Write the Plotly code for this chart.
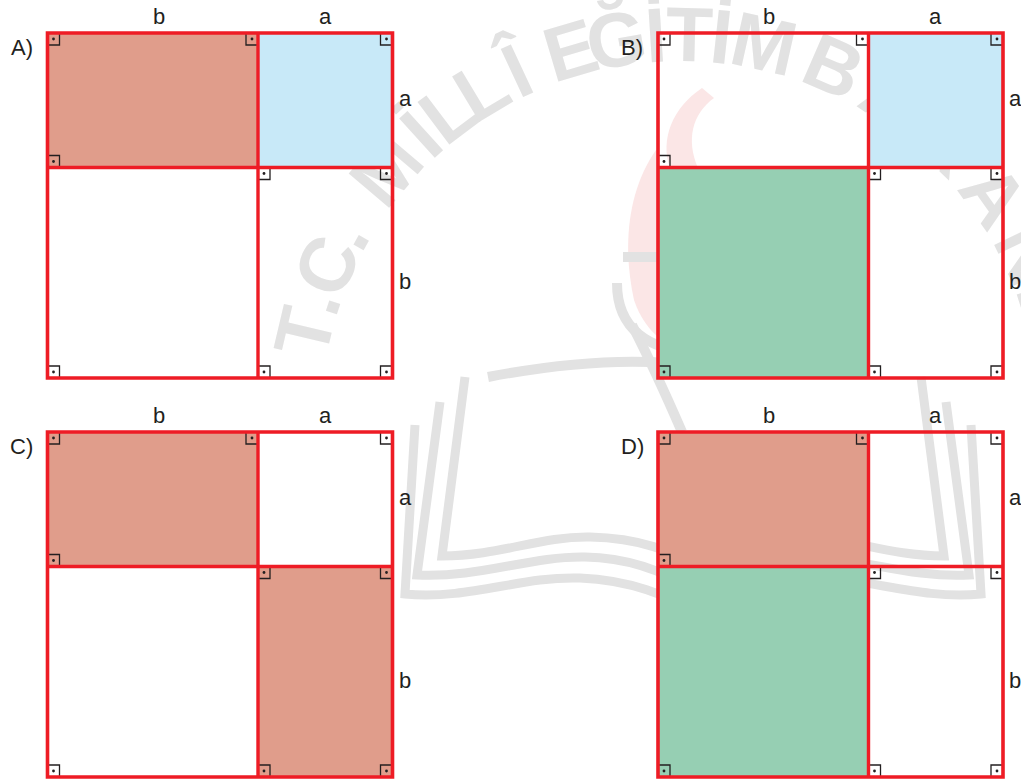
import plotly.graph_objects as go
import math

# ---------------- data ----------------
panel_labels = ["A)", "B)", "C)", "D)"]
side_names = ["a", "b"]
a_len = 134.5
b_len = 210.5
# fills per panel: [top-left (b x a), top-right (a x a), bottom-left (b x b), bottom-right (a x b)]
panel_fills = {
    "A)": ["brown", "blue", None, None],
    "B)": [None, "blue", "green", None],
    "C)": ["brown", None, None, "brown"],
    "D)": ["brown", None, "green", None],
}
watermark_chars = list("T.C.MİLLÎEĞİTİMBAKANLIĞI")
watermark_angles = [166.8, 162.0, 156.4, 150.9, 139.6, 132.2, 127.0, 121.0, 115.0,
                    106.5, 99.5, 93.6, 88.6, 83.8, 77.4, 66.5, 56.5, 46.0, 35.5,
                    25.5, 17.5, 12.0, 5.0, -2.0]

# ---------------- styles / layout ----------------
W, H = 1021, 780
origins = {"A)": (47.5, 33.0), "B)": (658.0, 33.0), "C)": (47.5, 432.0), "D)": (658.0, 432.0)}
colors = {"brown": "#E09D8B", "blue": "#C8E9F8", "green": "#96CFB3"}
RED = "#EE1C25"
INK = "#231F20"
GRAY = "#E2E2E2"
PINK = "#FBE6E6"
FONT = "Liberation Sans, Arial, sans-serif"

shapes = []
annotations = []

# ---- watermark (below everything) ----
cx, cy, R = 680.0, 420.0, 393.0
for ch, ang in zip(watermark_chars, watermark_angles):
    t = math.radians(ang)
    px = cx + R * math.cos(t)
    py = cy - R * math.sin(t)
    shapes.append(dict(type="rect", xref="x", yref="y", layer="below",
                       x0=px - 1, x1=px + 1, y0=py - 1, y1=py + 1,
                       line=dict(width=0), fillcolor="rgba(0,0,0,0)",
                       label=dict(text=ch, textposition="middle center",
                                  textangle=90 - ang,
                                  font=dict(family=FONT, size=77, color=GRAY, weight="bold"))))

# pink flame hints
flames = [
    "M 702 88 C 672 108 660 140 670 168 L 698 168 C 686 140 692 114 714 98 Z",
    "M 656 150 C 628 190 622 245 634 300 C 640 318 650 330 657 336 L 657 150 Z",
]
for p in flames:
    shapes.append(dict(type="path", path=p, xref="x", yref="y", layer="below",
                       fillcolor=PINK, line=dict(width=0)))

# book / torch strokes
book_left = [
    "M 415 425 L 405 594 C 470 600 520 576 580 578 C 630 580 670 596 693 612",
    "M 440 402 L 417 575 C 480 578 530 556 585 557 C 635 558 670 575 693 590",
    "M 465 377 L 442 556 C 500 556 540 536 590 537 C 640 538 675 552 693 566",
]
def mirror(path):
    toks = path.split()
    out, i = [], 0
    while i < len(toks):
        tk = toks[i]
        if tk.isalpha():
            out.append(tk); i += 1
        else:
            out.append(str(1386 - float(tk))); out.append(toks[i + 1]); i += 2
    return " ".join(out)
for p in book_left:
    for pp in (p, mirror(p)):
        shapes.append(dict(type="path", path=pp, xref="x", yref="y", layer="below",
                           line=dict(color=GRAY, width=9)))
extra = [
    "M 488 377 C 540 367 600 360 652 362 C 672 363 685 368 693 372",
    "M 623 257 L 763 257",
    "M 617 283 C 617 330 650 350 693 352",
    "M 632 325 C 650 360 666 395 682 432",
]
for p in extra:
    shapes.append(dict(type="path", path=p, xref="x", yref="y", layer="below",
                       line=dict(color=GRAY, width=10)))

# ---- panels ----
def mk(sx, sy, x, y, s=12):
    # right-angle marker at corner (x,y) extending into (sx,sy)
    xa, ya = x + s * sx, y + s * sy
    shapes.append(dict(type="path", xref="x", yref="y",
                       path=f"M {xa} {y} L {xa} {ya} L {x} {ya}",
                       line=dict(color=INK, width=1.3)))
    dx, dy = x + s / 2 * sx, y + s / 2 * sy
    shapes.append(dict(type="circle", xref="x", yref="y",
                       x0=dx - 1.4, x1=dx + 1.4, y0=dy - 1.4, y1=dy + 1.4,
                       fillcolor=INK, line=dict(width=0)))

for lab in panel_labels:
    ox, oy = origins[lab]
    f = panel_fills[lab]
    quads = [
        (ox, oy, ox + b_len, oy + a_len),
        (ox + b_len, oy, ox + b_len + a_len, oy + a_len),
        (ox, oy + a_len, ox + b_len, oy + a_len + b_len),
        (ox + b_len, oy + a_len, ox + b_len + a_len, oy + a_len + b_len),
    ]
    for fc, (x0, y0, x1, y1) in zip(f, quads):
        if fc:
            shapes.append(dict(type="rect", xref="x", yref="y", x0=x0, y0=y0, x1=x1, y1=y1,
                               fillcolor=colors[fc], line=dict(width=0)))
    X0, X1, X2 = ox, ox + b_len, ox + b_len + a_len
    Y0, Y1, Y2 = oy, oy + a_len, oy + a_len + b_len
    # markers
    mk(1, 1, X0, Y0); mk(-1, 1, X1, Y0); mk(-1, 1, X2, Y0)
    mk(1, -1, X0, Y1); mk(1, 1, X1, Y1); mk(-1, 1, X2, Y1)
    mk(1, -1, X0, Y2); mk(1, -1, X1, Y2); mk(-1, -1, X2, Y2)
    # red lines
    shapes.append(dict(type="rect", xref="x", yref="y", x0=X0, y0=Y0, x1=X2, y1=Y2,
                       line=dict(color=RED, width=3.6), fillcolor="rgba(0,0,0,0)"))
    shapes.append(dict(type="line", xref="x", yref="y", x0=X1, y0=Y0, x1=X1, y1=Y2,
                       line=dict(color=RED, width=3.4)))
    shapes.append(dict(type="line", xref="x", yref="y", x0=X0, y0=Y1, x1=X2, y1=Y1,
                       line=dict(color=RED, width=3.4)))
    # texts
    fnt = dict(family=FONT, size=22, color=INK)
    annotations.append(dict(x=ox - 26, y=oy + 14, text=lab, showarrow=False,
                            xanchor="center", yanchor="middle", font=fnt))
    annotations.append(dict(x=ox + b_len / 2 + 6, y=oy - 17, text=side_names[1], showarrow=False,
                            xanchor="center", yanchor="middle", font=fnt))
    annotations.append(dict(x=ox + b_len + a_len / 2, y=oy - 17, text=side_names[0], showarrow=False,
                            xanchor="center", yanchor="middle", font=fnt))
    annotations.append(dict(x=X2 + 4, y=oy + a_len / 2 - 2, text=side_names[0], showarrow=False,
                            xanchor="left", yanchor="middle", font=fnt))
    annotations.append(dict(x=X2 + 4, y=oy + a_len + b_len / 2 + 9, text=side_names[1], showarrow=False,
                            xanchor="left", yanchor="middle", font=fnt))

fig = go.Figure()
fig.add_trace(go.Scatter(x=[0, W], y=[0, H], mode="markers", marker=dict(opacity=0),
                         hoverinfo="skip", showlegend=False))
fig.update_layout(
    width=W, height=H, margin=dict(l=0, r=0, t=0, b=0),
    paper_bgcolor="white", plot_bgcolor="white",
    xaxis=dict(range=[0, W], visible=False, fixedrange=True),
    yaxis=dict(range=[H, 0], visible=False, fixedrange=True),
    shapes=shapes, annotations=annotations, showlegend=False,
)
fig.write_html("out.html", config={"displayModeBar": False},
               post_script="document.body.style.margin='0';document.body.style.overflow='hidden';")
